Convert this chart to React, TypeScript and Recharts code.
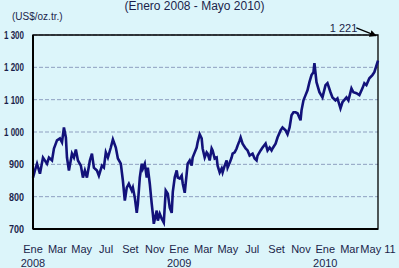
import React from "react";
import {
  LineChart, Line, XAxis, YAxis, CartesianGrid, ReferenceArea, ReferenceLine, ReferenceDot,
} from "recharts";

const BG = "#dcf5fa";
const INK = "#1b1f4a";
const NAVY = "#12127a";
const FONT = "'Liberation Sans Narrow', 'Liberation Sans', Arial, sans-serif";

// months since Jan 2008
const MONTHS = [
  0, 0.16, 0.33, 0.57, 0.82, 1.15, 1.31, 1.56, 1.72, 1.97, 2.21, 2.38, 2.54, 2.7, 2.79, 2.95,
  3.2, 3.36, 3.52, 3.69, 3.93, 4.1, 4.26, 4.43, 4.67, 4.84, 5.0, 5.25, 5.41, 5.66, 5.82, 5.98,
  6.15, 6.39, 6.56, 6.8, 6.97, 7.21, 7.38, 7.54, 7.7, 7.87, 8.11, 8.2, 8.36, 8.52, 8.61, 8.77,
  8.93, 9.02, 9.18, 9.34, 9.43, 9.59, 9.75, 9.84, 9.92, 10.16, 10.25, 10.41, 10.57, 10.74, 10.9, 11.07,
  11.23, 11.39, 11.48, 11.64, 11.8, 11.89, 12.05, 12.21, 12.3, 12.46, 12.62, 12.7, 12.87, 13.03, 13.11, 13.28,
  13.44, 13.52, 13.69, 13.85, 13.93, 14.1, 14.26, 14.34, 14.51, 14.67, 14.75, 14.92, 15.08, 15.16, 15.33, 15.49,
  15.57, 15.74, 15.9, 15.98, 16.15, 16.31, 16.39, 16.56, 16.72, 16.8, 16.97, 17.05, 17.21, 17.46, 17.62, 17.79,
  18.03, 18.2, 18.36, 18.44, 18.69, 18.85, 19.1, 19.26, 19.43, 19.59, 19.67, 19.92, 20.08, 20.33, 20.49, 20.74,
  20.9, 21.07, 21.23, 21.39, 21.56, 21.72, 21.97, 22.05, 22.21, 22.38, 22.54, 22.7, 22.87, 23.03, 23.11, 23.28,
  23.52, 23.77, 24.02, 24.18, 24.43, 24.59, 24.84, 25.0, 25.25, 25.41, 25.74, 25.9, 26.15, 26.31, 26.56, 26.8,
  27.05, 27.21, 27.38, 27.62, 27.87, 28.03, 28.33,
];

// US$/oz.tr.
const GOLD = [
  859, 881, 902, 871, 921, 902, 921, 912, 949, 974, 980, 968, 1014, 983, 921, 881,
  933, 921, 946, 912, 896, 859, 881, 859, 912, 933, 890, 881, 865, 896, 890, 937,
  921, 952, 977, 952, 918, 902, 850, 788, 828, 840, 819, 828, 797, 750, 778, 859,
  902, 887, 902, 859, 890, 840, 778, 747, 716, 757, 726, 747, 732, 720, 819, 809,
  766, 750, 815, 860, 881, 859, 856, 865, 840, 812, 871, 902, 912, 896, 921, 937,
  952, 968, 993, 980, 949, 921, 937, 933, 912, 949, 943, 918, 921, 896, 875, 887,
  875, 896, 912, 890, 905, 921, 933, 937, 949, 958, 974, 983, 964, 949, 943, 927,
  933, 918, 912, 927, 943, 952, 964, 943, 952, 943, 949, 964, 983, 1005, 1014, 1005,
  993, 1014, 1052, 1061, 1061, 1058, 1036, 1067, 1098, 1114, 1129, 1154, 1176, 1185, 1213, 1154,
  1123, 1107, 1145, 1151, 1123, 1107, 1098, 1104, 1073, 1092, 1107, 1098, 1135, 1123, 1120, 1114,
  1135, 1151, 1145, 1166, 1176, 1185, 1221,
];

const X_TICKS = [0, 2, 4, 6, 8, 10, 12, 14, 16, 18, 20, 22, 24, 26, 28.33];
const X_LABELS = ["Ene", "Mar", "May", "Jul", "Set", "Nov", "Ene", "Mar", "May", "Jul", "Set", "Nov", "Ene", "Mar", "May 11"];
const YEARS: Record<number, string> = { 0: "2008", 12: "2009", 24: "2010" };
const Y_TICKS = [700, 800, 900, 1000, 1100, 1200, 1300];

const data = MONTHS.map((m, i) => ({ m, v: GOLD[i] }));

function MonthTick({ x, y, payload }: any) {
  const i = X_TICKS.indexOf(payload.value);
  return (
    <g>
      <text x={x} y={y + 16} textAnchor="middle" fontSize={11} fill={INK} fontFamily={FONT}>{X_LABELS[i]}</text>
      {YEARS[payload.value] && (
        <text x={x} y={y + 30} textAnchor="middle" fontSize={11} fill={INK} fontFamily={FONT}>{YEARS[payload.value]}</text>
      )}
    </g>
  );
}

function ValueTick({ x, y, payload }: any) {
  const big = payload.value >= 1000;
  const s = big ? `1 ${String(payload.value).slice(1)}` : String(payload.value);
  return (
    <text
      x={x - 1} y={y + 4} textAnchor="end" fontSize={10} fontWeight="bold" fill={INK} fontFamily={FONT}
      textLength={big ? 20 : 15} lengthAdjust="spacingAndGlyphs"
    >{s}</text>
  );
}

function Arrow({ x1, y1, x2, y2 }: any) {
  return (
    <g>
      <defs>
        <marker id="ah" markerWidth="7" markerHeight="7" refX="6" refY="3.5" orient="auto" markerUnits="userSpaceOnUse">
          <path d="M0,0 L7,3.5 L0,7 Z" fill="#000" />
        </marker>
      </defs>
      <line x1={x1} y1={y1} x2={x2} y2={y2} stroke="#000" strokeWidth={1.2} markerEnd="url(#ah)" />
    </g>
  );
}

export default function App() {
  return (
    <div style={{ position: "absolute", left: 0, top: 0, width: 399, height: 268, background: BG, overflow: "hidden", fontFamily: FONT }}>
      <div style={{ position: "absolute", left: 0, width: 399, top: 0, textAlign: "center", fontSize: 12, color: INK, lineHeight: "13px" }}>
        <span style={{ position: "relative", left: -5 }}>(Enero 2008 - Mayo 2010)</span>
      </div>
      <div style={{ position: "absolute", left: 12, top: 11, fontSize: 10, color: INK }}>(US$/oz.tr.)</div>
      <LineChart width={399} height={268} data={data} margin={{ top: 35, right: 21, left: 0, bottom: 0 }} style={{ position: "absolute", left: 0, top: 0 }}>
        <CartesianGrid horizontal vertical={false} stroke="#8e9fc0" strokeDasharray="4 2" />
        <XAxis
          dataKey="m" type="number" domain={[0, 28.33]} ticks={X_TICKS} interval={0}
          tick={<MonthTick />} tickLine={false} axisLine={{ stroke: "#000", strokeWidth: 2 }} height={39}
        />
        <YAxis
          type="number" domain={[700, 1300]} ticks={Y_TICKS} interval={0}
          tick={<ValueTick />} tickLine={false} axisLine={{ stroke: "#000", strokeWidth: 2 }} width={33}
        />
        <ReferenceArea x1={0} x2={28.33} y1={700} y2={1300} fill="none" stroke="#000" strokeWidth={1.3} ifOverflow="visible" />
        <Line type="linear" dataKey="v" stroke={NAVY} strokeWidth={2.6} dot={false} isAnimationActive={false} />
        <ReferenceLine
          segment={[{ x: 26.55, y: 1322 }, { x: 28.15, y: 1298 }]}
          ifOverflow="visible" shape={<Arrow />}
        />
        <ReferenceDot
          x={25.5} y={1322} r={0} ifOverflow="visible"
          label={{ value: "1 221", position: "center", fontSize: 11, fill: INK, fontFamily: FONT }}
        />
      </LineChart>
    </div>
  );
}
